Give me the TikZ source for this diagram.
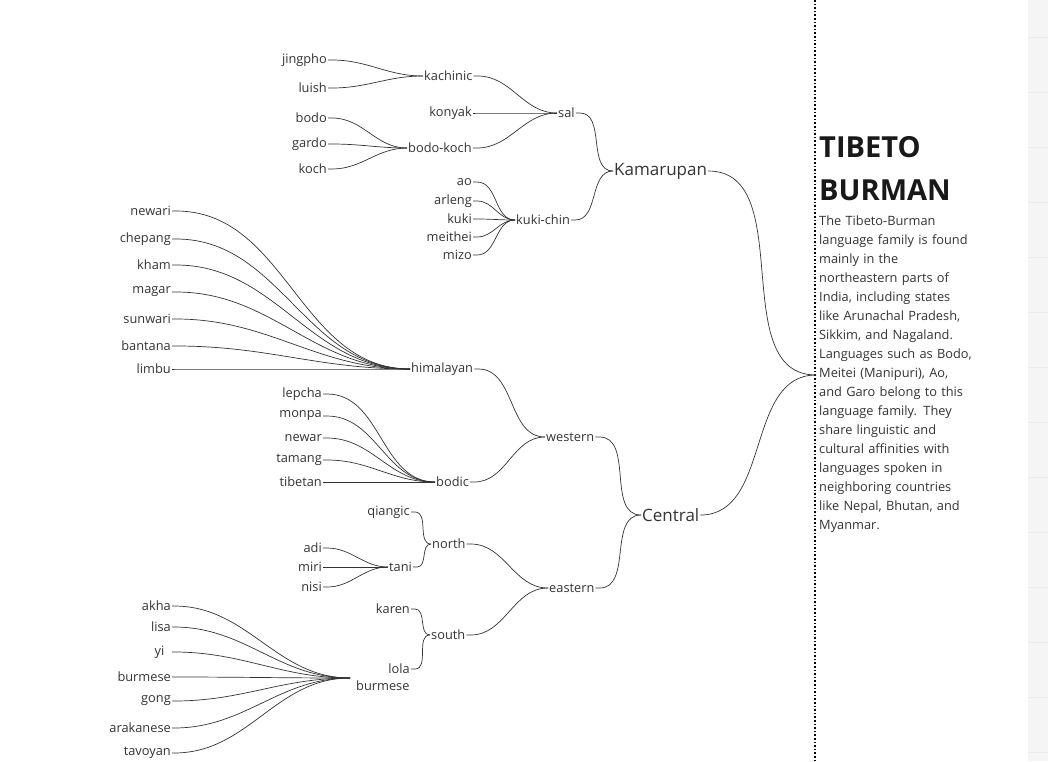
\documentclass[tikz,border=0pt]{standalone}
\usepackage{fontspec}
\setmainfont{Open Sans}
\usetikzlibrary{positioning}
\tikzset{
  leaf/.style={anchor=east, inner sep=1pt, font=\fontsize{12.8}{14}\selectfont, text=black!80},
  grp/.style={anchor=west, inner sep=1pt, font=\fontsize{12.8}{14}\selectfont, text=black!80},
  big/.style={anchor=west, inner sep=1pt, font=\fontsize{17}{19}\selectfont, text=black!80},
  link/.style={black!80, line width=0.7pt},
}
\newcommand{\tie}[2]{\draw[link] (#1.east) -- ++(4,0) to[out=0,in=180] (#2.west);}
\begin{document}
\begin{tikzpicture}[x=1pt,y=-1pt]
    \useasboundingbox (0,0) rectangle (1048,761);
    \fill[black!4] (1028,0) rectangle (1048,761);
    \foreach \y in {37,92,147,202,257,312,367,422,477,532,587,642,697,752}
      \draw[black!8] (1028,\y) -- (1048,\y);
    \draw[line width=1.6pt, dotted] (815,0) -- (815,761);

    % root
    \coordinate (root) at (816,375);
    \node[big] (kam) at (613,171) {Kamarupan};
    \node[big] (cen) at (641,515) {Central};
    \draw[link] (kam.east) to[out=0,in=180] (root);
    \draw[link] (cen.east) to[out=0,in=180] (root);

    % kamarupan
    \node[grp] (sal) at (557,113) {sal};
    \node[grp] (kuc) at (515,220) {kuki-chin};
    \node[grp] (kac) at (423,76) {kachinic};
    \node[leaf] (kon) at (473,113) {konyak};
    \node[grp] (bok) at (407,148) {bodo-koch};
    \tie{sal}{kam} \tie{kuc}{kam}
    \tie{kac}{sal} \tie{kon}{sal} \tie{bok}{sal}
    \foreach \n/\y in {jingpho/60, luish/88}
      {\node[leaf] (\n) at (328,\y) {\n}; \tie{\n}{kac}}
    \foreach \n/\y in {bodo/118, gardo/144, koch/169}
      {\node[leaf] (\n) at (328,\y) {\n}; \tie{\n}{bok}}
    \foreach \n/\y in {ao/182, arleng/201, kuki/219, meithei/237, mizo/255}
      {\node[leaf] (\n) at (473,\y) {\n}; \tie{\n}{kuc}}

    % central
    \node[grp] (wes) at (545,437) {western};
    \node[grp] (eas) at (548,588) {eastern};
    \tie{wes}{cen} \tie{eas}{cen}
    \node[grp] (him) at (410,369) {himalayan};
    \node[grp] (bdc) at (435,482) {bodic};
    \tie{him}{wes} \tie{bdc}{wes}
    \foreach \n/\y in {newari/211, chepang/239, kham/265, magar/292, sunwari/319, bantana/346, limbu/369}
      {\node[leaf] (\n) at (172,\y) {\n}; \tie{\n}{him}}
    \foreach \n/\y in {lepcha/394, monpa/416, newar/438, tamang/460, tibetan/482}
      {\node[leaf] (\n) at (323,\y) {\n}; \tie{\n}{bdc}}

    \node[grp] (nor) at (431,544) {north};
    \node[grp] (sou) at (430,635) {south};
    \tie{nor}{eas} \tie{sou}{eas}
    \node[leaf] (qia) at (411,512) {qiangic};
    \node[grp] (tan) at (388,567) {tani};
    \tie{qia}{nor} \tie{tan}{nor}
    \foreach \n/\y in {adi/548, miri/567, nisi/587}
      {\node[leaf] (\n) at (323,\y) {\n}; \tie{\n}{tan}}
    \node[leaf] (kar) at (411,609) {karen};
    \node[leaf] (lol) at (411,669) {lola};
    \tie{kar}{sou} \tie{lol}{sou}

    \coordinate (bur) at (350,678);
    \node[font=\fontsize{12.8}{14}\selectfont, text=black!80, anchor=north west, inner sep=1pt] at (355,680) {burmese};
    \foreach \n/\t/\y in {akha/akha/606, lisa/lisa/627, yi/yi\phantom{--}/652, brm/burmese/677, gong/gong/701, ara/arakanese/728, tav/tavoyan/753}
      {\node[leaf] (\n) at (172,\y) {\t}; \draw[link] (\n.east) -- ++(2,0) to[out=0,in=180] (bur);}

    % description
    \node[anchor=north west, inner sep=0pt, align=left, font=\bfseries\fontsize{29}{43}\selectfont, text=black!90] (ttl) at (819,136) {TIBETO\\BURMAN};
    \node[anchor=north west, inner sep=0pt, align=left, text width=170pt, font=\fontsize{12.8}{19}\selectfont, text=black!80] (txt) at (819,216)
      {The Tibeto-Burman\\language family is found\\mainly in the\\northeastern parts of\\India, including states\\like Arunachal Pradesh,\\Sikkim, and Nagaland.\\Languages such as Bodo,\\Meitei (Manipuri), Ao,\\and Garo belong to this\\language family. They\\share linguistic and\\cultural affinities with\\languages spoken in\\neighboring countries\\like Nepal, Bhutan, and\\Myanmar.};
\end{tikzpicture}
\end{document}
